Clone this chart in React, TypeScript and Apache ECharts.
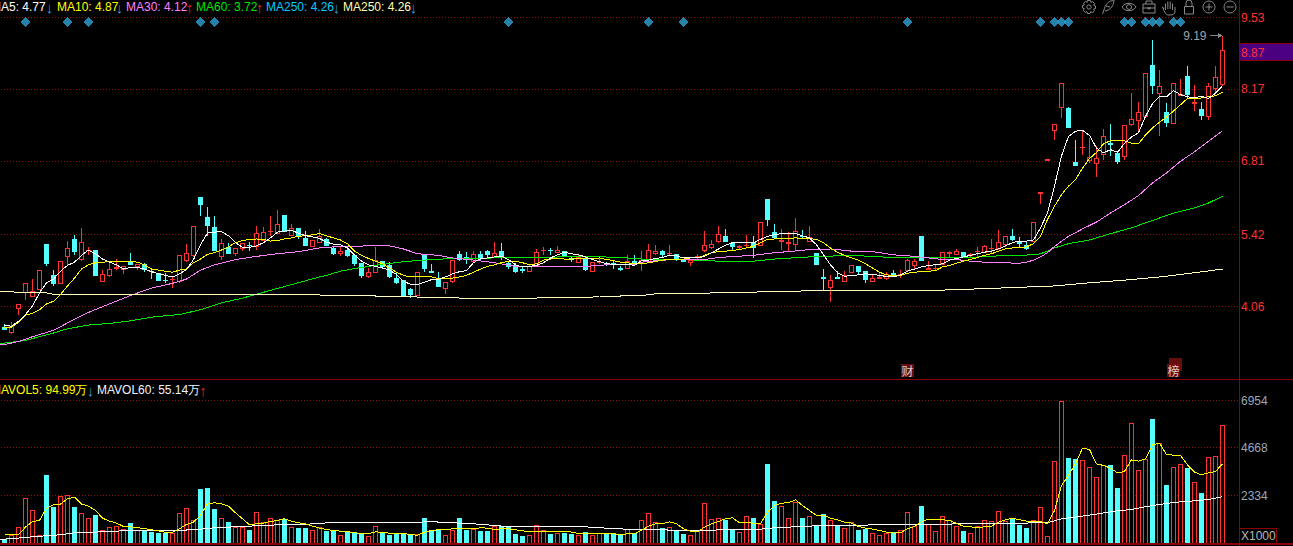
import React, { useEffect, useRef } from "react";
import * as echarts from "echarts";

// [open, close, low, high]
const candleRows: number[][] = [
[3.67,3.63,3.61,3.73],[3.57,3.68,3.55,3.77],[4.03,4.09,3.90,4.09],[4.33,4.49,4.19,4.51],[4.26,4.34,4.26,4.59],[4.39,4.75,4.39,4.75],[5.23,4.88,4.82,5.23],[4.65,4.50,4.45,4.76],[4.50,4.92,4.48,4.92],[5.01,5.15,4.84,5.31],
[5.33,5.11,5.04,5.42],[4.96,5.28,4.92,5.55],[5.12,5.13,5.03,5.19],[5.12,4.65,4.63,5.12],[4.54,4.67,4.54,4.75],[4.65,4.77,4.62,4.89],[4.79,4.80,4.75,4.96],[4.77,4.82,4.67,4.82],[4.89,4.85,4.84,5.08],[4.82,4.85,4.75,4.85],
[4.86,4.76,4.72,4.89],[4.73,4.72,4.59,4.75],[4.69,4.55,4.55,4.69],[4.56,4.55,4.50,4.69],[4.57,4.58,4.41,4.63],[4.54,5.02,4.50,5.02],[4.93,5.06,4.91,5.25],[5.03,5.57,5.00,5.57],[6.12,5.99,5.77,6.12],[5.75,5.60,5.39,5.95],
[5.56,5.12,5.11,5.78],[5.01,5.25,4.95,5.33],[5.17,5.07,5.05,5.27],[5.07,5.15,5.01,5.15],[5.16,5.25,5.12,5.25],[5.22,5.21,5.12,5.28],[5.20,5.44,5.13,5.59],[5.32,5.47,5.32,5.57],[5.48,5.49,5.39,5.78],[5.45,5.61,5.45,5.89],
[5.78,5.49,5.47,5.79],[5.41,5.54,5.41,5.63],[5.54,5.39,5.33,5.54],[5.34,5.22,5.22,5.49],[5.20,5.31,5.20,5.31],[5.27,5.39,5.26,5.53],[5.33,5.22,5.20,5.36],[5.15,5.06,5.03,5.20],[5.07,5.11,5.01,5.18],[5.13,5.03,5.00,5.19],
[5.02,4.88,4.82,5.02],[4.87,4.65,4.61,4.88],[4.62,4.70,4.61,4.79],[4.71,4.94,4.71,5.18],[4.91,4.82,4.81,4.92],[4.84,4.63,4.60,4.91],[4.60,4.52,4.48,4.70],[4.55,4.27,4.27,4.55],[4.39,4.29,4.22,4.41],[4.27,4.70,4.26,4.70],
[5.05,4.78,4.71,5.05],[4.72,4.71,4.71,4.87],[4.60,4.44,4.44,4.72],[4.41,4.51,4.29,4.51],[4.53,4.94,4.50,4.94],[5.04,4.95,4.92,5.11],[4.98,4.95,4.87,5.10],[4.92,5.04,4.91,5.11],[5.04,4.98,4.95,5.11],[5.11,5.04,4.98,5.14],
[4.98,5.06,4.97,5.29],[5.11,5.01,4.95,5.27],[4.87,4.81,4.77,4.92],[4.84,4.73,4.69,4.89],[4.76,4.75,4.70,4.80],[4.73,4.82,4.73,4.86],[4.84,5.08,4.82,5.15],[5.12,5.13,5.04,5.18],[5.13,5.12,5.04,5.17],[5.08,5.13,5.08,5.20],
[5.11,5.01,5.01,5.11],[4.97,4.96,4.91,5.01],[4.90,4.98,4.90,5.03],[4.96,4.76,4.73,5.01],[4.73,4.89,4.71,4.89],[4.89,4.90,4.87,5.01],[4.88,4.87,4.82,4.91],[4.87,4.86,4.78,4.92],[4.78,4.77,4.74,4.82],[4.78,4.92,4.78,5.03],
[4.92,4.86,4.82,5.03],[4.87,4.94,4.74,5.12],[4.92,5.13,4.92,5.25],[5.06,5.11,5.03,5.22],[5.10,5.05,4.98,5.14],[5.06,5.07,5.03,5.23],[5.05,4.95,4.92,5.05],[4.96,4.91,4.90,4.96],[4.89,4.93,4.82,4.93],[4.99,5.00,4.96,5.06],
[5.12,5.21,5.10,5.49],[5.18,5.23,5.15,5.32],[5.30,5.42,5.26,5.58],[5.38,5.29,5.29,5.52],[5.25,5.19,5.14,5.28],[5.18,5.19,5.14,5.23],[5.21,5.22,5.16,5.42],[5.27,5.17,4.97,5.40],[5.22,5.66,5.20,5.66],[6.09,5.71,5.59,6.09],
[5.47,5.37,5.34,5.63],[5.30,5.31,5.14,5.53],[5.26,5.27,5.10,5.48],[5.24,5.49,5.14,5.73],[5.39,5.38,5.35,5.50],[5.29,5.37,5.28,5.59],[5.06,4.85,4.85,5.06],[4.61,4.60,4.38,4.78],[4.43,4.55,4.14,4.65],[4.61,4.60,4.58,4.74],
[4.54,4.64,4.52,4.73],[4.71,4.83,4.71,4.83],[4.81,4.73,4.67,4.81],[4.72,4.58,4.50,4.72],[4.54,4.60,4.54,4.67],[4.60,4.61,4.58,4.72],[4.60,4.67,4.57,4.72],[4.69,4.62,4.62,4.76],[4.66,4.67,4.60,4.76],[4.75,4.93,4.71,4.96],
[4.84,4.91,4.77,4.96],[5.39,4.94,4.94,5.40],[4.77,4.78,4.76,4.93],[4.78,4.79,4.76,4.84],[4.86,5.08,4.84,5.10],[5.07,5.08,4.99,5.12],[5.05,5.10,5.03,5.15],[5.08,4.99,4.98,5.08],[5.03,5.04,5.00,5.08],[5.10,5.11,5.00,5.19],
[5.09,5.19,5.09,5.23],[5.15,5.16,5.08,5.33],[5.15,5.28,5.13,5.50],[5.23,5.38,5.19,5.38],[5.39,5.33,5.31,5.53],[5.30,5.26,5.19,5.38],[5.21,5.16,5.13,5.30],[5.30,5.66,5.28,5.66],[6.20,6.21,6.01,6.21],[6.83,6.84,6.83,6.84],
[7.39,7.51,7.22,7.51],[7.82,8.28,7.63,8.28],[7.81,7.45,7.45,7.84],[6.79,6.73,6.72,7.22],[7.07,7.08,6.92,7.41],[6.82,6.89,6.78,7.25],[6.76,6.86,6.51,7.10],[6.93,7.27,6.84,7.42],[7.15,7.13,6.91,7.52],[6.96,6.81,6.75,7.00],
[6.91,7.48,6.83,7.48],[7.51,7.60,7.47,8.10],[7.59,7.73,7.36,7.93],[7.66,8.48,7.66,8.48],[8.63,8.24,8.09,9.10],[8.10,8.22,7.28,8.53],[7.73,7.54,7.46,7.92],[7.53,8.28,7.53,8.28],[8.06,8.07,8.04,8.36],[8.41,8.07,8.01,8.62],
[7.91,7.92,7.76,8.26],[7.79,7.68,7.60,7.93],[7.65,8.23,7.59,8.29],[8.18,8.39,8.12,8.62],[8.26,8.90,8.23,9.19],
];

const ma5 = [3.70,3.69,3.78,3.91,4.07,4.32,4.51,4.58,4.73,4.84,4.90,5.03,5.13,5.06,4.96,4.90,4.85,4.77,4.80,4.80,4.77,4.72,4.68,4.65,4.62,4.68,4.76,4.95,5.23,5.45,5.47,5.48,5.40,5.27,5.18,5.18,5.21,5.27,5.36,5.47,5.49,5.50,5.45,5.40,5.38,5.35,
5.28,5.24,5.23,5.17,5.04,4.92,4.85,4.82,4.79,4.75,4.67,4.54,4.48,4.48,4.52,4.57,4.58,4.62,4.68,4.72,4.74,4.89,4.97,4.98,5.00,5.01,4.95,4.85,4.81,4.82,4.84,4.89,4.98,5.04,5.09,5.06,5.04,5.00,4.95,4.91,4.87,4.86,4.86,4.86,4.84,
4.93,4.94,4.97,4.99,5.03,5.02,4.98,4.98,4.98,5.01,5.08,5.15,5.22,5.27,5.27,5.27,5.27,5.33,5.39,5.42,5.44,5.44,5.44,5.40,5.36,5.23,5.04,4.85,4.70,4.63,4.65,4.66,4.68,4.67,4.65,4.63,4.62,4.66,4.73,4.77,4.81,4.84,4.85,4.87,4.94,4.97,
5.00,5.03,5.06,5.09,5.11,5.15,5.21,5.27,5.30,5.30,5.32,5.55,5.83,6.34,6.91,7.28,7.38,7.40,7.30,7.06,6.97,7.03,6.98,7.15,7.27,7.35,7.66,7.90,8.04,8.03,8.15,8.07,8.03,8.01,8.04,8.00,8.10,8.24];

const ma10 = [3.66,3.67,3.76,3.90,3.93,4.00,4.11,4.16,4.29,4.45,4.60,4.77,4.85,4.89,4.90,4.91,4.91,4.92,4.92,4.90,4.85,4.77,4.75,4.73,4.71,4.75,4.77,4.89,4.96,5.05,5.08,5.13,5.19,5.27,5.31,5.33,5.34,5.33,5.30,5.31,5.34,5.36,5.39,5.40,5.42,5.44,
5.40,5.36,5.32,5.25,5.11,5.03,4.97,4.92,4.87,4.79,4.71,4.65,4.62,4.62,4.62,4.62,4.59,4.59,4.60,4.62,4.65,4.71,4.77,4.82,4.85,4.89,4.92,4.92,4.89,4.85,4.87,4.94,4.96,4.97,4.96,4.96,4.97,4.97,4.97,4.98,4.95,4.93,4.90,4.89,4.87,
4.87,4.89,4.91,4.94,4.96,4.96,4.96,4.98,4.98,5.03,5.08,5.10,5.11,5.12,5.14,5.17,5.20,5.27,5.33,5.34,5.35,5.35,5.36,5.35,5.35,5.33,5.27,5.17,5.09,5.03,4.98,4.94,4.87,4.79,4.71,4.66,4.65,4.65,4.69,4.71,4.72,4.73,4.74,4.81,4.84,4.88,
4.92,4.95,4.99,5.03,5.06,5.11,5.15,5.17,5.17,5.19,5.25,5.39,5.71,5.96,6.18,6.34,6.46,6.68,6.86,6.98,7.14,7.20,7.20,7.20,7.15,7.14,7.31,7.44,7.55,7.65,7.76,7.88,8.00,7.99,8.01,8.03,8.05,8.12];

const ma30 = [[-1,3.33],[0,3.34],[2,3.40],[4,3.49],[7,3.61],[9,3.75],[12,3.95],[15,4.11],[18,4.27],[21,4.41],[24,4.50],[26,4.58],[28,4.75],[30,4.85],[33,4.95],[36,5.01],[39,5.06],[42,5.10],[45,5.17],[46,5.18],[48,5.20],[53,5.21],[55,5.21],[57,5.15],[59,5.06],[62,5.03],[64,4.98],[67,4.94],[70,4.89],[73,4.82],[76,4.81],[83,4.82],[86,4.85],[90,4.85],[91,4.90],[94,4.94],[97,4.95],[100,4.95],[102,4.99],[107,5.03],[110,5.08],[112,5.10],[115,5.14],[118,5.15],[121,5.11],[124,5.10],[127,5.04],[130,5.01],[134,4.95],[136,4.95],[138,4.92],[140,4.90],[145,4.88],[146,4.90],[147,4.94],[148,5.00],[149,5.08],[150,5.20],[152,5.39],[154,5.53],[156,5.66],[158,5.83],[160,5.99],[162,6.16],[164,6.40],[166,6.59],[168,6.81],[170,6.99],[172,7.19],[174,7.39]];
const ma60 = [[-1,3.36],[0,3.37],[3,3.42],[7,3.56],[9,3.64],[12,3.71],[15,3.74],[18,3.79],[21,3.86],[25,3.91],[28,4.00],[31,4.13],[34,4.22],[37,4.33],[40,4.44],[45,4.62],[46,4.65],[48,4.73],[50,4.78],[53,4.84],[57,4.91],[60,4.94],[64,4.97],[70,4.98],[76,4.99],[83,5.01],[88,4.99],[90,4.97],[91,4.96],[97,4.95],[100,4.93],[104,4.91],[107,4.92],[110,4.96],[115,5.00],[121,5.03],[125,5.00],[130,4.98],[134,4.99],[136,4.98],[138,4.99],[142,5.02],[147,5.04],[148,5.06],[149,5.11],[150,5.17],[152,5.25],[155,5.32],[158,5.44],[161,5.55],[164,5.69],[167,5.83],[170,5.93],[172,6.02],[174,6.15]];
const ma250 = [[-1,4.34],[0,4.34],[6,4.32],[7,4.29],[20,4.29],[45,4.28],[46,4.27],[52,4.27],[53,4.26],[58,4.26],[59,4.24],[64,4.24],[65,4.22],[76,4.22],[77,4.24],[84,4.24],[85,4.26],[88,4.26],[90,4.27],[91,4.27],[93,4.30],[100,4.30],[101,4.32],[106,4.32],[108,4.34],[113,4.34],[114,4.36],[125,4.36],[133,4.36],[135,4.38],[136,4.38],[150,4.45],[155,4.51],[160,4.56],[165,4.62],[170,4.70],[174,4.77]];

const volumes = [214,424,813,2223,1639,424,3308,1753,2320,2368,1753,1494,1251,1364,667,813,862,716,975,667,619,554,505,522,522,1494,1737,1153,2628,2676,1656,1251,1024,781,781,635,1542,1056,1251,1121,1170,813,732,732,635,813,
585,585,423,601,569,488,342,861,488,391,440,504,391,472,1217,666,666,423,666,1217,634,715,585,585,861,828,780,440,342,423,909,666,440,521,488,440,423,569,423,488,488,488,391,715,488,
1120,1493,1055,764,812,666,440,423,601,1981,1201,1250,1120,715,569,1347,1250,958,3842,2076,1833,1250,1995,1250,1347,845,1444,1152,909,764,1039,634,683,521,423,521,569,666,1541,828,1833,958,618,1347,1152,861,
586,522,862,1153,1105,1591,1105,1202,878,732,1153,1785,376,4021,6937,4134,4086,4069,3729,3243,3810,3794,2676,4312,5868,3583,4118,6078,4896,2822,3729,3875,3648,3000,2433,4215,4264,5770];

const mavol5 = [424,424,424,797,1072,1121,1720,1882,1915,2174,2255,1915,1818,1607,1235,1089,991,829,813,765,732,667,619,538,554,716,927,1040,1364,1931,1980,1931,1818,1494,1202,910,959,991,1072,1121,1202,1089,1008,959,846,749,
683,634,601,585,521,488,472,569,537,504,504,504,423,407,553,634,666,666,715,715,715,715,764,748,683,715,715,666,618,569,569,569,569,569,601,553,488,472,472,472,472,472,423,472,472,
634,845,958,958,1055,958,715,601,569,796,958,1072,1201,1250,1007,1007,991,958,1525,1849,1962,1979,2124,1849,1606,1363,1379,1233,1152,1039,991,828,748,699,634,553,504,521,715,828,1071,1185,1169,1152,1120,974,
846,813,765,813,846,1040,1153,1235,1153,1089,1072,1072,959,1607,2822,3308,3875,4636,4572,3875,3794,3664,3438,3502,4069,4004,4118,4798,4879,4329,4296,4280,3826,3470,3340,3438,3502,3875];
const mavol60 = [[-1,214],[0,214],[2,263],[4,327],[6,376],[8,424],[10,522],[13,554],[17,619],[24,635],[27,667],[30,765],[35,846],[38,894],[41,927],[45,959],[46,1007],[59,1007],[60,1055],[63,1039],[64,1007],[65,991],[67,958],[69,909],[70,861],[73,828],[83,812],[85,764],[88,715],[90,666],[91,666],[97,650],[100,618],[102,666],[108,699],[110,764],[113,812],[116,861],[121,893],[134,926],[136,958],[137,959],[149,1008],[151,1202],[153,1283],[156,1429],[159,1591],[161,1655],[164,1850],[167,1996],[170,2077],[172,2141],[174,2271]];

const priceTicks = [4.06, 5.42, 6.81, 8.17, 9.53];
const volumeTicks = [2334, 4668, 6954];
const diamondIndices = [3,9,12,28,30,72,92,97,129,148,150,151,152,160,161,163,164,165,167,168];
const noticeMarks = [{ index: 129, text: "财" }, { index: 167, text: "榜" }];
const lastHigh = { index: 174, value: 9.19, text: "9.19" };
const lastPrice = "8.87";
const slotCount = 177;

const topLegend = [
  { name: "MA5: 4.77", color: "#ffffff", arrow: "↓" },
  { name: "MA10: 4.87", color: "#ffff00", arrow: "↓" },
  { name: "MA30: 4.12", color: "#ff80ff", arrow: "↑" },
  { name: "MA60: 3.72", color: "#00e800", arrow: "↑" },
  { name: "MA250: 4.26", color: "#00ccff", arrow: "↓" },
  { name: "MA250: 4.26", color: "#ffffb0", arrow: "↓" },
];
const topLegendX = [-9, 57, 126, 196, 266, 343];
const topArrowX = [49.5, 119.5, 189.5, 259.5, 336.5, 413.5];
const volLegend = [
  { name: "MAVOL5: 94.99万", color: "#ffff00", arrow: "↓" },
  { name: "MAVOL60: 55.14万", color: "#f0f4ff", arrow: "↑" },
];
const volLegendX = [-9, 97];
const volArrowX = [90.5, 203];

const GREY = "#888888";
const RED = "#ff3232";
const CYAN = "#54ffff";
const DARK = "#8b0000";
const FONT = "'Liberation Sans', Arial, sans-serif";

const icons: Record<string, string> = {
  icGear: "M-1.5 -6.5H1.5L2 -4.6L3.8 -5.4L5.7 -3.3L4.6 -1.8L6.5 -1V1.5L4.6 2L5.4 3.8L3.3 5.7L1.8 4.6L1 6.5H-1.5L-2 4.6L-3.8 5.4L-5.7 3.3L-4.6 1.8L-6.5 1V-1.5L-4.6 -2L-5.4 -3.8L-3.3 -5.7L-1.8 -4.6ZM-2.2 0A2.2 2.2 0 1 0 2.2 0A2.2 2.2 0 1 0 -2.2 0Z",
  icPen: "M6 -7C0 -6 -3 -2 -4 3L-5.5 7M6 -7C6 -2 3 3 -3 4M-2 -1L2 0",
  icEye: "M-7 0C-4 -5 4 -5 7 0C4 5 -4 5 -7 0ZM-2.5 0A2.5 2.5 0 1 0 2.5 0A2.5 2.5 0 1 0 -2.5 0Z",
  icBox: "M-6 -3H6V6H-6ZM-3 -3V-6H3V-3M-6 1H6M-1 0V2H1V0",
  icHand: "M-5 1L-6.5 -1M-3.5 2V-4.5M-1.2 1V-6.5M1.2 1V-6.5M3.5 2V-4.5M6 -1V3C6 6 4 7 1 7H-1C-3 7 -4 5 -6.5 -1",
  icLock: "M-4.5 -0.5H4.5V7H-4.5ZM-3 -0.5V-4A3 3 0 0 1 3 -4V-0.5",
  icPlus: "M-6 0A6 6 0 1 0 6 0A6 6 0 1 0 -6 0ZM-3.5 0H3.5M0 -3.5V3.5",
  icMinus: "M-6 0A6 6 0 1 0 6 0A6 6 0 1 0 -6 0ZM-3.5 0H3.5",
};
const iconOrder = ["icGear", "icPen", "icEye", "icBox", "icHand", "icLock", "icPlus", "icMinus"];
const iconX = [1089, 1108, 1129, 1149, 1169, 1189, 1209, 1230];
const iconY = [7, 7, 7, 7, 8, 7, 7, 7];
Object.keys(icons).forEach((k) => echarts.graphic.registerShape(k, echarts.graphic.extendPath(icons[k], {})));

const label = (x: number, y: number, text: string, fill: string, z = 50, align = "left", size = 12) => ({
  type: "text", x, y, z, silent: true,
  style: { text, fill, font: `${size}px ${FONT}`, textAlign: align, textVerticalAlign: "middle" },
});

function buildOption() {
  const categories = Array.from({ length: slotCount }, (_, i) => String(i));
  const graphic: any[] = [];
  graphic.push({ type: "rect", z: 40, silent: true, shape: { x: 1239, y: 0, width: 1, height: 546 }, style: { fill: DARK } });
  graphic.push({ type: "rect", z: 40, silent: true, shape: { x: 0, y: 379, width: 1293, height: 1 }, style: { fill: DARK } });
  graphic.push({ type: "rect", z: 40, silent: true, shape: { x: 0, y: 543, width: 1293, height: 2 }, style: { fill: DARK } });
  graphic.push({ type: "rect", z: 45, silent: true, shape: { x: 1239.5, y: 43.5, width: 54, height: 17 }, style: { fill: "#4b0082", stroke: DARK, lineWidth: 1 } });
  graphic.push(label(1241, 52.5, lastPrice, RED));
  graphic.push({ type: "rect", z: 45, silent: true, shape: { x: 1239.5, y: 528.5, width: 37, height: 15 }, style: { fill: "#000", stroke: DARK, lineWidth: 1 } });
  graphic.push(label(1241, 536, "X1000", "#b8b8b8"));
  topLegend.forEach((l, i) => {
    graphic.push(label(topLegendX[i], 6.5, l.name, l.color));
    graphic.push(label(topArrowX[i], 7.5, l.arrow, l.arrow === "↑" ? "#e02020" : "#2f9fd0", 50, "center", 15));
  });
  volLegend.forEach((l, i) => {
    graphic.push(label(volLegendX[i], 390, l.name, l.color));
    graphic.push(label(volArrowX[i], 390.5, l.arrow, l.arrow === "↑" ? "#e02020" : "#2f9fd0", 50, "center", 15));
  });
  iconOrder.forEach((k, i) => {
    graphic.push({ type: k, x: iconX[i], y: iconY[i], z: 50, silent: true, style: { stroke: GREY, fill: "none", lineWidth: 1 } });
  });

  const line = (name: string, data: any[], color: string, x = 0, width = 1) => ({
    name, type: "line", data, xAxisIndex: x, yAxisIndex: x, showSymbol: false, symbol: "none",
    connectNulls: true, silent: true, smooth: false, z: 5,
    lineStyle: { color, width }, itemStyle: { color },
  });

  return {
    animation: false,
    backgroundColor: "#000",
    graphic,
    grid: [
      { left: 1, top: 0, width: 1239, height: 379 },
      { left: 1, top: 380, width: 1239, height: 163.5 },
    ],
    xAxis: [0, 1].map((gridIndex) => ({
      type: "category", gridIndex, data: categories, boundaryGap: true, show: false,
    })),
    yAxis: [
      {
        type: "value", gridIndex: 0, position: "right", min: 2.689, max: 9.863, scale: true,
        axisLine: { show: false },
        axisTick: { show: false, customValues: priceTicks },
        axisLabel: { customValues: priceTicks, margin: 1, color: RED, fontSize: 12, fontFamily: FONT, formatter: (v: number) => v.toFixed(2) },
        splitLine: { show: true, lineStyle: { color: "#8b1010", type: [1, 2], width: 1 } },
      },
      {
        type: "value", gridIndex: 1, position: "right", min: 0, max: 7951,
        axisLine: { show: false },
        axisTick: { show: false, customValues: volumeTicks },
        axisLabel: { customValues: volumeTicks, margin: 1, color: "#9aa8bc", fontSize: 12, fontFamily: FONT, formatter: (v: number) => String(v) },
        splitLine: { show: true, lineStyle: { color: "#8b1010", type: [1, 2], width: 1 } },
      },
    ],
    series: [
      {
        type: "candlestick", xAxisIndex: 0, yAxisIndex: 0, data: candleRows, barWidth: 4, silent: true, z: 3,
        itemStyle: { color: "#000", color0: CYAN, borderColor: RED, borderColor0: CYAN, borderWidth: 1 },
      },
      line("MA250b", ma250, "#00ccff"),
      line("MA60", ma60, "#00e800"),
      line("MA30", ma30, "#ff80ff"),
      line("MA250", ma250, "#ffffc0"),
      line("MA10", ma10, "#ffff00"),
      line("MA5", ma5, "#ffffff"),
      {
        type: "scatter", xAxisIndex: 0, yAxisIndex: 0, symbol: "diamond", symbolSize: 10, silent: true, z: 6,
        itemStyle: { color: "#2ea3d4" }, data: diamondIndices.map((i) => [i, 9.455]),
      },
      {
        type: "scatter", xAxisIndex: 0, yAxisIndex: 0, symbol: "rect", symbolSize: 13, silent: true, z: 6, clip: false,
        itemStyle: { color: "#801010" },
        label: { show: false },
        data: [[noticeMarks[1].index, 2.96]],
        symbolOffset: [2, 0],
      },
      {
        type: "scatter", xAxisIndex: 0, yAxisIndex: 0, symbol: "rect", symbolSize: 13, silent: true, z: 7, clip: false,
        itemStyle: { color: "#801010" },
        label: { show: true, position: "inside", color: "#fff", fontSize: 12, fontFamily: "'Noto Sans CJK SC'", formatter: (p: any) => p.value[2] },
        data: noticeMarks.map((m) => [m.index, 2.85, m.text]),
      },
      {
        type: "scatter", xAxisIndex: 0, yAxisIndex: 0, silent: true, z: 6,
        symbol: "path://M0 2H9V0L13 2.5L9 5V3H0Z", symbolSize: [13, 5], symbolOffset: [-6.5, 0],
        itemStyle: { color: "#a8a8a8" },
        label: { show: true, position: "left", distance: 3, color: "#c8d0d8", fontSize: 12, fontFamily: FONT, formatter: lastHigh.text },
        data: [[lastHigh.index, lastHigh.value]],
      },
      {
        type: "bar", xAxisIndex: 1, yAxisIndex: 1, barWidth: 5, silent: true, z: 3,
        data: volumes.map((v, i) => {
          const up = candleRows[i][1] >= candleRows[i][0];
          return {
            value: v,
            itemStyle: up
              ? { color: "#000", borderColor: RED, borderWidth: 1 }
              : { color: CYAN, borderColor: CYAN, borderWidth: 1 },
          };
        }),
      },
      line("MAVOL60", mavol60, "#ffffff", 1),
      line("MAVOL5", mavol5, "#ffff00", 1),
    ],
  };
}

const crispCss = `#kchart svg path{shape-rendering:crispEdges}
#kchart svg path[stroke="#888888"],#kchart svg path[stroke="#888"]{shape-rendering:auto}`;

export default function App() {
  const ref = useRef<HTMLDivElement>(null);
  useEffect(() => {
    document.body.style.margin = "0";
    document.body.style.background = "#000";
    const chart = echarts.init(ref.current!, undefined, { renderer: "svg" });
    chart.setOption(buildOption() as any);
    return () => chart.dispose();
  }, []);
  return (
    <>
      <style>{crispCss}</style>
      <div id="kchart" ref={ref} style={{ width: 1293, height: 546, overflow: "hidden" }} />
    </>
  );
}
